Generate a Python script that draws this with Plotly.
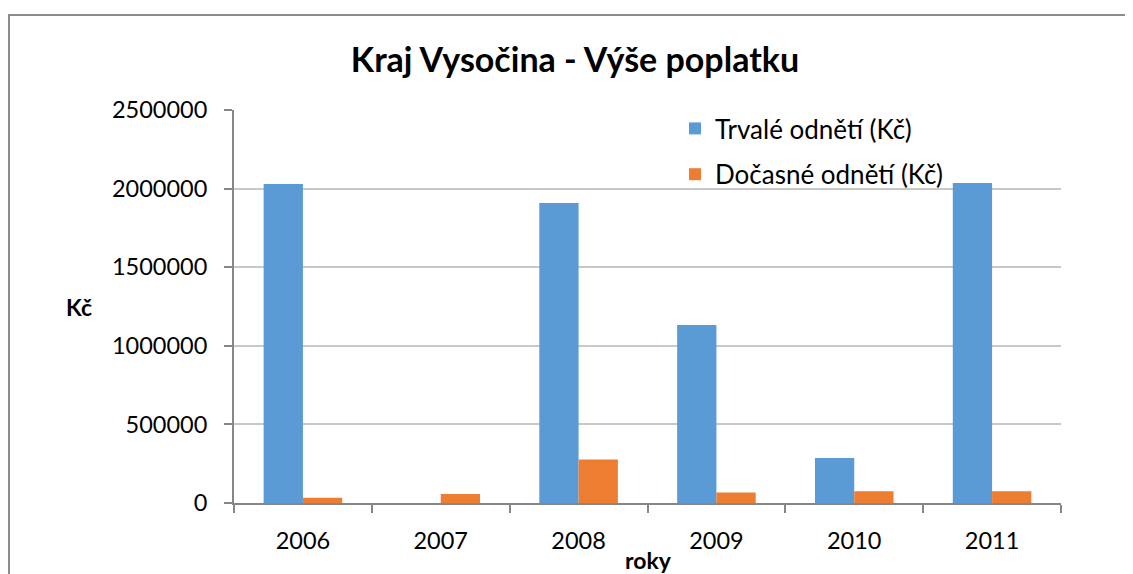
import plotly.graph_objects as go

years = ["2006", "2007", "2008", "2009", "2010", "2011"]
trvale = [2030000, 0, 1908000, 1133000, 287000, 2036000]
docasne = [34000, 57000, 277000, 66000, 75000, 75000]
y_ticks = [0, 500000, 1000000, 1500000, 2000000, 2500000]

FONT = "Lato"
# page has an 8px body margin; figure coordinates are page - 8
W, H = 1125, 566
L, R, T, B = 226, 72, 102, 71
pw = W - L - R
ph = H - T - B
BOT = H - B  # figure y of plot bottom

fig = go.Figure()
fig.add_trace(go.Bar(x=years, y=trvale, name="Trvalé odnětí (Kč)",
                     marker=dict(color="#5B9BD5", line=dict(width=0)),
                     legendgroup="a"))
fig.add_trace(go.Bar(x=years, y=docasne, name="Dočasné odnětí (Kč)",
                     marker=dict(color="#ED7D31", line=dict(width=0)),
                     legendgroup="b"))

fig.update_layout(
    width=W, height=H,
    margin=dict(l=L, r=R, t=T, b=B, pad=0),
    paper_bgcolor="white", plot_bgcolor="white",
    font=dict(family=FONT, size=23, color="#000000"),
    bargap=0.43, bargroupgap=0,
    title=dict(text="<b>Kraj Vysočina - Výše poplatku</b>", x=(575 - 8) / W, xanchor="center",
               y=1 - 52 / H, yanchor="middle", font=dict(family=FONT, size=34, color="#000")),
    legend=dict(x=(667 - L) / pw, y=(BOT - 97) / ph, xanchor="left", yanchor="top",
                bgcolor="rgba(0,0,0,0)", font=dict(size=26), tracegroupgap=9,
                traceorder="grouped"),
    showlegend=True,
)
fig.update_xaxes(type="category", showline=True, linecolor="#878787", linewidth=2,
                 ticks="outside", ticklen=8, tickcolor="#878787", tickwidth=1.5,
                 tickson="boundaries", showgrid=False, ticklabelstandoff=16,
                 tickfont=dict(size=23.5), zeroline=False)
fig.update_yaxes(range=[0, 2500000], tickvals=y_ticks, ticktext=[str(v) for v in y_ticks],
                 showline=True, linecolor="#878787", linewidth=2,
                 ticks="outside", ticklen=8, tickcolor="#878787", tickwidth=1.5,
                 showgrid=True, gridcolor="#C8C8C8", gridwidth=1.5, zeroline=False,
                 ticklabelstandoff=12, tickfont=dict(size=23.5))

# outer chart frame
fig.add_shape(type="rect", xref="paper", yref="paper",
              x0=(1 - L) / pw, x1=1.3, y0=-0.3, y1=(BOT - 7) / ph,
              line=dict(color="#8C8C8C", width=2), fillcolor="rgba(0,0,0,0)", layer="below")

fig.add_annotation(text="<b>Kč</b>", xref="paper", yref="paper",
                   x=(79 - 8 - L) / pw, y=(BOT - (307 - 8)) / ph, showarrow=False,
                   xanchor="center", yanchor="middle",
                   font=dict(family=FONT, size=23, color="#000"))
fig.add_annotation(text="<b>roky</b>", xref="paper", yref="paper",
                   x=(648 - 8 - L) / pw, y=(BOT - (560 - 8)) / ph, showarrow=False,
                   xanchor="center", yanchor="middle",
                   font=dict(family=FONT, size=23, color="#000"))

fig.write_html("out.html")
